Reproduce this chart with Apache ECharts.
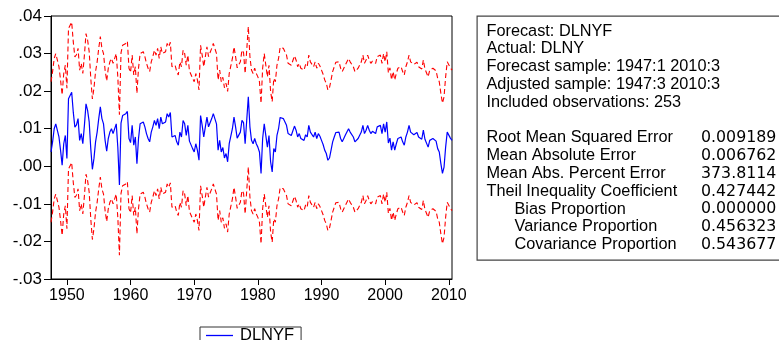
<!DOCTYPE html>
<html>
<head>
<meta charset="utf-8">
<script src="https://cdn.jsdelivr.net/npm/echarts@6/dist/echarts.min.js"></script>
<style>
html,body{margin:0;padding:0;background:#fff;}
#chart{width:779px;height:340px;}
</style>
</head>
<body>
<div id="chart"></div>
<script>
// ---- Data ----
const startYear = 1947;
const startQuarter = 3;
const nObs = 253;

// Static forecast DLNYF, 1947:3 .. 2010:3 (quarterly)
const dlnyf = [
  0.0038,0.0065,0.0100,0.0113,0.0118,0.0078,0.0043,0.0003,0.0060,0.0082,
  0.0021,0.0180,0.0175,0.0197,0.0144,0.0104,0.0110,0.0127,0.0069,0.0087,
  0.0060,0.0109,0.0166,0.0149,0.0118,0.0047,-0.0008,0.0021,0.0065,0.0091,
  0.0127,0.0158,0.0127,0.0113,0.0069,0.0040,0.0074,0.0091,0.0100,0.0087,
  0.0091,0.0113,0.0050,-0.0050,0.0115,0.0135,0.0132,0.0140,0.0146,0.0074,
  0.0063,0.0109,0.0056,0.0078,0.0007,0.0074,0.0113,0.0109,0.0118,0.0105,
  0.0087,0.0074,0.0065,0.0091,0.0105,0.0122,0.0109,0.0127,0.0100,0.0131,
  0.0113,0.0118,0.0118,0.0140,0.0131,0.0143,0.0078,0.0075,0.0082,0.0065,
  0.0056,0.0091,0.0078,0.0122,0.0113,0.0082,0.0109,0.0067,0.0069,0.0047,
  0.0038,0.0060,0.0043,0.0016,0.0135,0.0109,0.0078,0.0105,0.0131,0.0105,
  0.0105,0.0127,0.0140,0.0140,0.0113,0.0043,0.0069,0.0038,0.0050,0.0022,
  0.0034,0.0012,0.0060,0.0080,0.0100,0.0131,0.0105,0.0075,0.0078,0.0091,
  0.0122,0.0116,0.0060,0.0062,0.0185,0.0105,0.0069,0.0060,0.0074,0.0060,
  0.0051,0.0038,-0.0019,0.0074,0.0113,0.0118,0.0051,0.0082,0.0012,-0.0015,
  0.0047,0.0038,0.0082,0.0100,0.0130,0.0130,0.0127,0.0122,0.0109,0.0087,
  0.0087,0.0082,0.0087,0.0107,0.0096,0.0078,0.0087,0.0074,0.0074,0.0069,
  0.0084,0.0078,0.0109,0.0091,0.0096,0.0078,0.0091,0.0074,0.0087,0.0080,
  0.0069,0.0058,0.0043,0.0034,0.0016,0.0022,0.0043,0.0065,0.0078,0.0090,
  0.0091,0.0091,0.0074,0.0065,0.0074,0.0083,0.0087,0.0100,0.0091,0.0091,
  0.0078,0.0065,0.0065,0.0074,0.0078,0.0091,0.0109,0.0087,0.0096,0.0109,
  0.0096,0.0087,0.0093,0.0096,0.0087,0.0105,0.0100,0.0109,0.0087,0.0113,
  0.0091,0.0118,0.0062,0.0075,0.0043,0.0065,0.0043,0.0060,0.0074,0.0069,
  0.0078,0.0065,0.0056,0.0078,0.0091,0.0109,0.0091,0.0087,0.0084,0.0087,
  0.0090,0.0078,0.0075,0.0072,0.0096,0.0072,0.0069,0.0051,0.0069,0.0065,
  0.0074,0.0078,0.0067,0.0047,0.0038,0.0007,-0.0019,-0.0002,0.0051,0.0091,
  0.0087,0.0075,0.0069
];

// Two standard errors of the forecast (band half-width)
const twoSE = 0.0187;

const xTickLabels = ['1950','1960','1970','1980','1990','2000','2010'];
const yTickLabels = ['-.03','-.02','-.01','.00','.01','.02','.03','.04'];
const legendNames = ['DLNYF'];

const infoLines = [
  'Forecast: DLNYF',
  'Actual: DLNY',
  'Forecast sample: 1947:1 2010:3',
  'Adjusted sample: 1947:3 2010:3',
  'Included observations: 253'
];
const statNames = [
  'Root Mean Squared Error',
  'Mean Absolute Error',
  'Mean Abs. Percent Error',
  'Theil Inequality Coefficient',
  'Bias Proportion',
  'Variance Proportion',
  'Covariance Proportion'
];
const statValues = ['0.009189','0.006762','373.8114','0.427442','0.000000','0.456323','0.543677'];

// ---- Build ----
const categories = [];
{
  let y = startYear, q = startQuarter;
  for (let i = 0; i < nObs; i++) {
    categories.push(y + 'Q' + q);
    q++; if (q > 4) { q = 1; y++; }
  }
}
const upper = dlnyf.map(v => +(v + twoSE).toFixed(5));
const lower = dlnyf.map(v => +(v - twoSE).toFixed(5));

const FONT = "'Liberation Sans', Arial, sans-serif";
const NUMFONT = "'DejaVu Sans', sans-serif";
const isTick = (idx) => {
  const v = categories[idx];
  return v.endsWith('Q1') && xTickLabels.includes(v.slice(0, 4));
};

const graphics = [];
graphics.push({
  type: 'rect', left: 476.5, top: 15.5,
  shape: { x: 0, y: 0, width: 340, height: 244 },
  style: { fill: '#fff', stroke: '#444', lineWidth: 1.2 },
  silent: true
});
const lineH = 17.8, y0 = 31.2;
infoLines.forEach((t, k) => {
  graphics.push({ type: 'text', x: 486.5, y: y0 + k * lineH,
    style: { text: t, font: '16.3px ' + FONT, fill: '#000', textVerticalAlign: 'middle' } });
});
statNames.forEach((t, k) => {
  const yy = y0 + (k + 6) * lineH;
  graphics.push({ type: 'text', x: k >= 4 ? 514.5 : 486.5, y: yy,
    style: { text: t, font: '16.3px ' + FONT, fill: '#000', textVerticalAlign: 'middle' } });
  graphics.push({ type: 'text', x: 701, y: yy,
    style: { text: statValues[k], font: '15.8px ' + NUMFONT, fill: '#000', textVerticalAlign: 'middle' } });
});

const chart = echarts.init(document.getElementById('chart'), null, { renderer: 'canvas' });
chart.setOption({
  animation: false,
  backgroundColor: '#fff',
  grid: { left: 51, right: 327, top: 16, bottom: 61, show: true, borderColor: '#000', borderWidth: 1, backgroundColor: 'transparent' },
  legend: {
    data: legendNames,
    left: 200, top: 327,
    orient: 'vertical',
    icon: 'rect',
    itemWidth: 27, itemHeight: 1.3, itemGap: 8,
    padding: [0, 7, 12, 6],
    borderColor: '#333', borderWidth: 1,
    itemStyle: { color: '#0000ff' },
    textStyle: { fontFamily: FONT, fontSize: 16.5, color: '#000', padding: [0, 0, 0, 2] }
  },
  xAxis: {
    type: 'category',
    data: categories,
    boundaryGap: false,
    axisLine: { onZero: false, lineStyle: { color: '#000', width: 1 } },
    axisTick: { show: true, interval: isTick, length: 6, lineStyle: { color: '#000' } },
    axisLabel: { interval: isTick, formatter: v => v.slice(0, 4), margin: 9,
      fontFamily: FONT, fontSize: 16, color: '#000' },
    splitLine: { show: false }
  },
  yAxis: {
    type: 'value',
    min: -0.03, max: 0.04, interval: 0.01,
    axisLine: { show: true, onZero: false, lineStyle: { color: '#000', width: 1 } },
    axisTick: { show: true, length: 7, lineStyle: { color: '#000' } },
    axisLabel: { formatter: v => yTickLabels[Math.round((v + 0.03) / 0.01)], margin: 9,
      fontFamily: FONT, fontSize: 17, color: '#000' },
    splitLine: { show: false }
  },
  series: [
    { name: 'DLNYF', type: 'line', data: dlnyf, showSymbol: false, symbol: 'none',
      lineStyle: { color: '#0000ff', width: 1.2 }, itemStyle: { color: '#0000ff' } },
    { name: 'upper', type: 'line', data: upper, showSymbol: false, symbol: 'none',
      lineStyle: { color: '#ff0000', width: 1.1, type: [5, 3] } },
    { name: 'lower', type: 'line', data: lower, showSymbol: false, symbol: 'none',
      lineStyle: { color: '#ff0000', width: 1.1, type: [5, 3] } }
  ],
  graphic: graphics
});
</script>
</body>
</html>
